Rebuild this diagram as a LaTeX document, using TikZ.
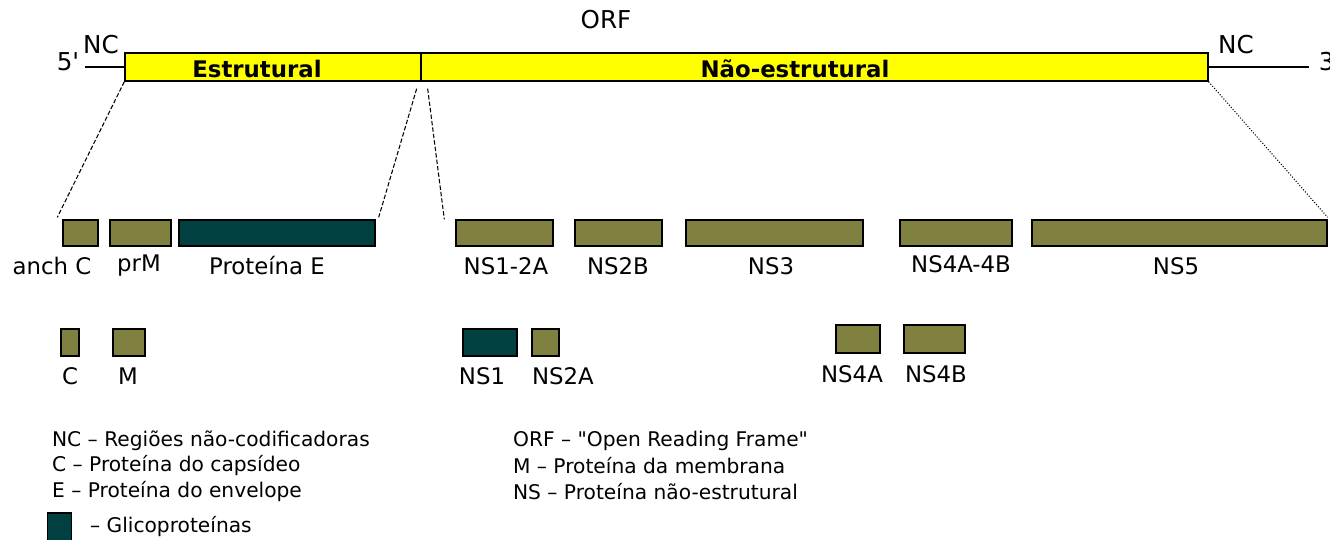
\documentclass[tikz,border=0pt]{standalone}
\usepackage{fontspec}
\setmainfont{DejaVu Sans}[Ligatures=TeXOff]
\usetikzlibrary{positioning}

\definecolor{orfyellow}{RGB}{255,255,0}
\definecolor{protolive}{RGB}{128,128,64}
\definecolor{glicoteal}{RGB}{0,64,64}

\begin{document}
\begin{tikzpicture}[
  x=0.02cm, y=-0.02cm,
  orfbox/.style={rectangle, draw, line width=0.8pt, fill=orfyellow, minimum height=0.56cm, inner sep=0pt},
  orftxt/.style={font=\bfseries\fontsize{13}{15}\selectfont, inner sep=1pt},
  seg/.style={rectangle, draw, line width=0.8pt, fill=protolive, minimum height=0.52cm, inner sep=0pt},
  glico/.style={seg, fill=glicoteal},
  lbl/.style={font=\fontsize{13}{15}\selectfont, inner sep=1pt},
  toplbl/.style={font=\fontsize{14}{16}\selectfont, inner sep=1pt},
  leg/.style={font=\fontsize{11.5}{13}\selectfont, inner sep=1pt, anchor=west},
  zoomline/.style={line width=0.6pt, dash pattern=on 2.5pt off 1.2pt},
]
  \useasboundingbox (0,0) rectangle (1330,540);

  % genome: ORF with its two regions
  \node[orfbox, minimum width=5.92cm]  (estr)    at (273,67)   {};
  \node[orfbox, minimum width=15.74cm] (naoestr) at (814.5,67) {};
  \node[orftxt] (estrtxt)    at (257,69) {Estrutural};
  \node[orftxt] (naoestrtxt) at (795,69) {Não-estrutural};
  \node[toplbl] (orf)   at (606,20)  {ORF};
  \node[toplbl] (five)  at (68,62)   {5'};
  \node[toplbl] (three) at (1330,62) {3'};
  \node[toplbl] (ncl) at (101,45)  {NC};
  \node[toplbl] (ncr) at (1236,45) {NC};
  \coordinate (fiveend)  at (85,67);
  \coordinate (threeend) at (1309,67);
  \draw[line width=0.7pt] (fiveend) -- (estr.west);
  \draw[line width=0.7pt] (naoestr.east) -- (threeend);

  % precursor segments
  \node[seg, minimum width=0.70cm]  (anchC)  at (80.5,233)  {};
  \node[seg, minimum width=1.22cm]  (prM)    at (140.5,233) {};
  \node[glico, minimum width=3.92cm] (protE) at (277,233)   {};
  \node[seg, minimum width=1.94cm]  (ns12a)  at (504.5,233) {};
  \node[seg, minimum width=1.74cm]  (ns2b)   at (618.5,233) {};
  \node[seg, minimum width=3.54cm]  (ns3)    at (774.5,233) {};
  \node[seg, minimum width=2.24cm]  (ns4a4b) at (956,233)   {};
  \node[seg, minimum width=5.90cm]  (ns5)    at (1179.5,233) {};

  \node[lbl] at (52,266)   {anch C};
  \node[lbl] at (139,266)  {prM};
  \node[lbl] at (267,266)  {Proteína E};
  \node[lbl] at (506,266)  {NS1-2A};
  \node[lbl] at (618,266)  {NS2B};
  \node[lbl] at (771,266)  {NS3};
  \node[lbl] at (961,264)  {NS4A-4B};
  \node[lbl] at (1176,266) {NS5};

  % expansion lines
  \draw[zoomline] (estr.south west) -- ([xshift=-0.1cm,yshift=0.04cm]anchC.north west);
  \draw[zoomline] ([xshift=-0.1cm,yshift=-0.14cm]estr.south east) -- ([xshift=0.06cm,yshift=0.04cm]protE.north east);
  \draw[zoomline] ([xshift=0.12cm,yshift=-0.14cm]estr.south east) -- ([xshift=-0.22cm]ns12a.north west);
  \draw[line width=0.6pt, densely dotted] (naoestr.south east) -- ([yshift=0.04cm]ns5.north east);

  % mature proteins
  \node[seg, minimum width=0.36cm, minimum height=0.54cm]   (c)    at (70,342.5)  {};
  \node[seg, minimum width=0.64cm, minimum height=0.54cm]   (m)    at (129,342.5) {};
  \node[glico, minimum width=1.08cm, minimum height=0.54cm] (ns1)  at (490,342.5) {};
  \node[seg, minimum width=0.54cm, minimum height=0.54cm]   (ns2a) at (545.5,342.5) {};
  \node[seg, minimum width=0.88cm, minimum height=0.56cm]   (ns4a) at (858,339)   {};
  \node[seg, minimum width=1.22cm, minimum height=0.56cm]   (ns4b) at (934.5,339) {};

  \node[lbl] at (70,376)  {C};
  \node[lbl] at (128,376) {M};
  \node[lbl] at (482,376) {NS1};
  \node[lbl] at (563,376) {NS2A};
  \node[lbl] at (852,374) {NS4A};
  \node[lbl] at (936,374) {NS4B};

  % legend
  \node[leg] (legnc)  at (50,441)  {NC – Regiões não-codificadoras};
  \node[leg] (legc)   at (50,466)  {C – Proteína do capsídeo};
  \node[leg] (lege)   at (50,492)  {E – Proteína do envelope};
  \node[leg] (legorf) at (511,441) {ORF – "Open Reading Frame"};
  \node[leg] (legm)   at (511,466) {M – Proteína da membrana};
  \node[leg] (legns)  at (511,492) {NS – Proteína não-estrutural};
  \node[glico, minimum width=0.48cm, minimum height=0.6cm] (legbox) at (59.5,528) {};
  \node[leg] (legglico) at (88,527) {– Glicoproteínas};
\end{tikzpicture}
\end{document}
